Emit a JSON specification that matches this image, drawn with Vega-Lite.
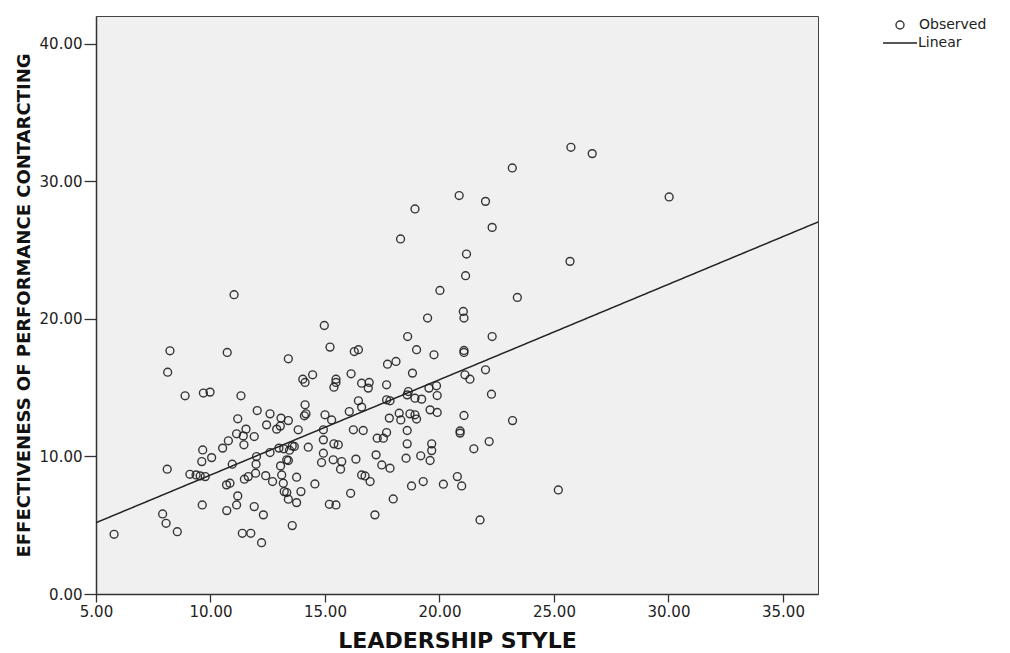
{
  "$schema": "https://vega.github.io/schema/vega-lite/v6.json",
  "width": 722,
  "height": 578,
  "autosize": {"type": "none"},
  "padding": {"left": 96, "top": 16, "right": 192, "bottom": 59},
  "background": "white",
  "config": {
    "view": {"fill": "#f0f0f0", "stroke": "#444444", "strokeWidth": 1},
    "axis": {
      "grid": false,
      "domainColor": "#333333",
      "domainWidth": 1.5,
      "tickColor": "#333333",
      "tickWidth": 1.3,
      "labelFont": "DejaVu Sans",
      "labelFontSize": 15,
      "labelColor": "#222222",
      "labelFlush": false,
      "labelOverlap": false,
      "titleFont": "DejaVu Sans",
      "titleFontWeight": "bold",
      "titleColor": "#111111"
    },
    "legend": {
      "labelFont": "DejaVu Sans",
      "labelFontSize": 14,
      "labelColor": "#222222",
      "padding": 0
    }
  },
  "layer": [
    {
      "data": {
        "values": [
          {"leadership": 8.23, "effectiveness": 17.67},
          {"leadership": 10.73, "effectiveness": 17.55},
          {"leadership": 13.40, "effectiveness": 17.09},
          {"leadership": 15.22, "effectiveness": 17.94},
          {"leadership": 8.13, "effectiveness": 16.12},
          {"leadership": 14.46, "effectiveness": 15.93},
          {"leadership": 14.03, "effectiveness": 15.61},
          {"leadership": 14.13, "effectiveness": 15.37},
          {"leadership": 8.89, "effectiveness": 14.40},
          {"leadership": 9.69, "effectiveness": 14.60},
          {"leadership": 9.98, "effectiveness": 14.67},
          {"leadership": 11.33, "effectiveness": 14.40},
          {"leadership": 14.13, "effectiveness": 13.75},
          {"leadership": 14.17, "effectiveness": 13.09},
          {"leadership": 14.10, "effectiveness": 12.95},
          {"leadership": 12.04, "effectiveness": 13.33},
          {"leadership": 12.60, "effectiveness": 13.09},
          {"leadership": 11.19, "effectiveness": 12.73},
          {"leadership": 13.08, "effectiveness": 12.78},
          {"leadership": 13.40, "effectiveness": 12.60},
          {"leadership": 12.45, "effectiveness": 12.29},
          {"leadership": 12.89, "effectiveness": 11.98},
          {"leadership": 13.05, "effectiveness": 12.20},
          {"leadership": 13.83, "effectiveness": 11.93},
          {"leadership": 11.55, "effectiveness": 11.98},
          {"leadership": 11.14, "effectiveness": 11.64},
          {"leadership": 11.43, "effectiveness": 11.49},
          {"leadership": 11.91, "effectiveness": 11.44},
          {"leadership": 10.78, "effectiveness": 11.13},
          {"leadership": 10.53, "effectiveness": 10.60},
          {"leadership": 11.46, "effectiveness": 10.84},
          {"leadership": 9.66, "effectiveness": 10.47},
          {"leadership": 10.05, "effectiveness": 9.91},
          {"leadership": 9.62, "effectiveness": 9.62},
          {"leadership": 10.95, "effectiveness": 9.43},
          {"leadership": 12.99, "effectiveness": 10.60},
          {"leadership": 13.57, "effectiveness": 10.76},
          {"leadership": 13.66, "effectiveness": 10.72},
          {"leadership": 13.20, "effectiveness": 10.55},
          {"leadership": 13.45, "effectiveness": 10.45},
          {"leadership": 12.01, "effectiveness": 9.99},
          {"leadership": 12.60, "effectiveness": 10.28},
          {"leadership": 14.27, "effectiveness": 10.67},
          {"leadership": 13.33, "effectiveness": 9.75},
          {"leadership": 13.40, "effectiveness": 9.70},
          {"leadership": 13.06, "effectiveness": 9.31},
          {"leadership": 11.99, "effectiveness": 9.43},
          {"leadership": 8.11, "effectiveness": 9.07},
          {"leadership": 9.10, "effectiveness": 8.70},
          {"leadership": 9.37, "effectiveness": 8.65},
          {"leadership": 9.55, "effectiveness": 8.58},
          {"leadership": 9.77, "effectiveness": 8.53},
          {"leadership": 10.70, "effectiveness": 7.93},
          {"leadership": 10.85, "effectiveness": 8.05},
          {"leadership": 11.48, "effectiveness": 8.34},
          {"leadership": 11.65, "effectiveness": 8.53},
          {"leadership": 11.97, "effectiveness": 8.78},
          {"leadership": 12.41, "effectiveness": 8.60},
          {"leadership": 12.71, "effectiveness": 8.17},
          {"leadership": 13.11, "effectiveness": 8.65},
          {"leadership": 13.18, "effectiveness": 8.05},
          {"leadership": 13.22, "effectiveness": 7.44},
          {"leadership": 13.33, "effectiveness": 7.37},
          {"leadership": 13.76, "effectiveness": 8.49},
          {"leadership": 13.95, "effectiveness": 7.44},
          {"leadership": 13.40, "effectiveness": 6.89},
          {"leadership": 13.76, "effectiveness": 6.64},
          {"leadership": 14.56, "effectiveness": 8.00},
          {"leadership": 11.19, "effectiveness": 7.13},
          {"leadership": 11.14, "effectiveness": 6.47},
          {"leadership": 10.71, "effectiveness": 6.06},
          {"leadership": 11.91, "effectiveness": 6.35},
          {"leadership": 12.31, "effectiveness": 5.75},
          {"leadership": 9.64, "effectiveness": 6.47},
          {"leadership": 7.91, "effectiveness": 5.82},
          {"leadership": 8.06, "effectiveness": 5.14},
          {"leadership": 8.55, "effectiveness": 4.53},
          {"leadership": 5.79, "effectiveness": 4.34},
          {"leadership": 11.39, "effectiveness": 4.41},
          {"leadership": 11.76, "effectiveness": 4.41},
          {"leadership": 12.23, "effectiveness": 3.73},
          {"leadership": 13.57, "effectiveness": 4.97},
          {"leadership": 15.19, "effectiveness": 6.52},
          {"leadership": 15.48, "effectiveness": 6.47},
          {"leadership": 14.85, "effectiveness": 9.55},
          {"leadership": 14.93, "effectiveness": 10.23},
          {"leadership": 14.93, "effectiveness": 11.20},
          {"leadership": 14.93, "effectiveness": 11.93},
          {"leadership": 15.00, "effectiveness": 13.02},
          {"leadership": 18.61, "effectiveness": 18.71},
          {"leadership": 22.30, "effectiveness": 18.71},
          {"leadership": 16.28, "effectiveness": 17.62},
          {"leadership": 16.46, "effectiveness": 17.75},
          {"leadership": 19.00, "effectiveness": 17.75},
          {"leadership": 19.76, "effectiveness": 17.38},
          {"leadership": 21.07, "effectiveness": 17.70},
          {"leadership": 21.07, "effectiveness": 17.55},
          {"leadership": 17.73, "effectiveness": 16.70},
          {"leadership": 18.10, "effectiveness": 16.90},
          {"leadership": 18.82, "effectiveness": 16.05},
          {"leadership": 16.14, "effectiveness": 16.00},
          {"leadership": 15.48, "effectiveness": 15.61},
          {"leadership": 15.48, "effectiveness": 15.37},
          {"leadership": 15.39, "effectiveness": 15.03},
          {"leadership": 16.60, "effectiveness": 15.32},
          {"leadership": 16.93, "effectiveness": 15.37},
          {"leadership": 16.89, "effectiveness": 14.96},
          {"leadership": 17.69, "effectiveness": 15.20},
          {"leadership": 21.11, "effectiveness": 15.93},
          {"leadership": 21.33, "effectiveness": 15.61},
          {"leadership": 22.01, "effectiveness": 16.29},
          {"leadership": 22.27, "effectiveness": 14.52},
          {"leadership": 19.54, "effectiveness": 14.96},
          {"leadership": 19.87, "effectiveness": 15.13},
          {"leadership": 19.90, "effectiveness": 14.42},
          {"leadership": 18.64, "effectiveness": 14.71},
          {"leadership": 18.59, "effectiveness": 14.47},
          {"leadership": 18.93, "effectiveness": 14.23},
          {"leadership": 19.22, "effectiveness": 14.16},
          {"leadership": 16.46, "effectiveness": 14.04},
          {"leadership": 16.60, "effectiveness": 13.58},
          {"leadership": 16.06, "effectiveness": 13.26},
          {"leadership": 17.69, "effectiveness": 14.11},
          {"leadership": 17.84, "effectiveness": 14.04},
          {"leadership": 19.59, "effectiveness": 13.38},
          {"leadership": 19.90, "effectiveness": 13.19},
          {"leadership": 18.24, "effectiveness": 13.14},
          {"leadership": 18.71, "effectiveness": 13.09},
          {"leadership": 18.93, "effectiveness": 13.02},
          {"leadership": 17.81, "effectiveness": 12.78},
          {"leadership": 18.31, "effectiveness": 12.65},
          {"leadership": 19.00, "effectiveness": 12.71},
          {"leadership": 21.07, "effectiveness": 12.97},
          {"leadership": 15.29, "effectiveness": 12.65},
          {"leadership": 16.24, "effectiveness": 11.93},
          {"leadership": 16.67, "effectiveness": 11.88},
          {"leadership": 17.69, "effectiveness": 11.73},
          {"leadership": 17.28, "effectiveness": 11.32},
          {"leadership": 17.55, "effectiveness": 11.32},
          {"leadership": 18.59, "effectiveness": 11.88},
          {"leadership": 20.90, "effectiveness": 11.85},
          {"leadership": 20.90, "effectiveness": 11.69},
          {"leadership": 22.17, "effectiveness": 11.08},
          {"leadership": 21.50, "effectiveness": 10.55},
          {"leadership": 18.59, "effectiveness": 10.91},
          {"leadership": 19.66, "effectiveness": 10.91},
          {"leadership": 19.66, "effectiveness": 10.42},
          {"leadership": 15.39, "effectiveness": 10.91},
          {"leadership": 15.58, "effectiveness": 10.84},
          {"leadership": 17.23, "effectiveness": 10.11},
          {"leadership": 18.54, "effectiveness": 9.87},
          {"leadership": 19.18, "effectiveness": 10.04},
          {"leadership": 19.59, "effectiveness": 9.70},
          {"leadership": 15.36, "effectiveness": 9.75},
          {"leadership": 15.73, "effectiveness": 9.62},
          {"leadership": 15.68, "effectiveness": 9.07},
          {"leadership": 16.35, "effectiveness": 9.80},
          {"leadership": 17.48, "effectiveness": 9.38},
          {"leadership": 17.84, "effectiveness": 9.14},
          {"leadership": 16.60, "effectiveness": 8.65},
          {"leadership": 16.75, "effectiveness": 8.58},
          {"leadership": 16.97, "effectiveness": 8.17},
          {"leadership": 16.12, "effectiveness": 7.32},
          {"leadership": 18.78, "effectiveness": 7.85},
          {"leadership": 19.29, "effectiveness": 8.17},
          {"leadership": 20.17, "effectiveness": 7.98},
          {"leadership": 20.78, "effectiveness": 8.53},
          {"leadership": 20.97, "effectiveness": 7.85},
          {"leadership": 17.98, "effectiveness": 6.91},
          {"leadership": 17.18, "effectiveness": 5.75},
          {"leadership": 21.77, "effectiveness": 5.38},
          {"leadership": 23.19, "effectiveness": 12.60},
          {"leadership": 25.19, "effectiveness": 7.56},
          {"leadership": 25.74, "effectiveness": 32.46},
          {"leadership": 26.67, "effectiveness": 32.00},
          {"leadership": 23.18, "effectiveness": 30.96},
          {"leadership": 20.86, "effectiveness": 28.95},
          {"leadership": 22.01, "effectiveness": 28.53},
          {"leadership": 18.93, "effectiveness": 27.98},
          {"leadership": 30.03, "effectiveness": 28.85},
          {"leadership": 22.30, "effectiveness": 26.64},
          {"leadership": 18.30, "effectiveness": 25.80},
          {"leadership": 21.18, "effectiveness": 24.70},
          {"leadership": 25.70, "effectiveness": 24.17},
          {"leadership": 21.14, "effectiveness": 23.13},
          {"leadership": 20.02, "effectiveness": 22.06},
          {"leadership": 23.40, "effectiveness": 21.55},
          {"leadership": 21.04, "effectiveness": 20.53},
          {"leadership": 21.07, "effectiveness": 20.05},
          {"leadership": 19.48, "effectiveness": 20.05},
          {"leadership": 14.97, "effectiveness": 19.51},
          {"leadership": 11.03, "effectiveness": 21.75}
        ]
      },
      "mark": {"type": "point", "filled": false, "size": 62, "strokeWidth": 1.4, "opacity": 0.9},
      "encoding": {
        "x": {
          "field": "leadership",
          "type": "quantitative",
          "scale": {"domain": [5, 36.53], "nice": false, "zero": false},
          "axis": {
            "values": [5, 10, 15, 20, 25, 30, 35],
            "format": ".2f",
            "title": "LEADERSHIP STYLE",
            "tickSize": 8,
            "labelPadding": 2,
            "titleFontSize": 22,
            "titlePadding": 11
          }
        },
        "y": {
          "field": "effectiveness",
          "type": "quantitative",
          "scale": {"domain": [0, 42], "nice": false},
          "axis": {
            "values": [0, 10, 20, 30, 40],
            "format": ".2f",
            "title": "EFFECTIVENESS OF PERFORMANCE CONTARCTING",
            "tickSize": 12,
            "labelPadding": 2,
            "titleFontSize": 18,
            "titlePadding": 6
          }
        },
        "color": {
          "datum": "Observed",
          "type": "nominal",
          "scale": {"domain": ["Observed"], "range": ["#222222"]},
          "legend": {
            "title": null,
            "orient": "none",
            "legendX": 797,
            "legendY": 2,
            "symbolType": "circle",
            "symbolSize": 64,
            "symbolStrokeWidth": 1.4,
            "labelOffset": 12
          }
        }
      }
    },
    {
      "data": {
        "values": [
          {"leadership": 5, "effectiveness": 5.18},
          {"leadership": 36.53, "effectiveness": 27.03}
        ]
      },
      "mark": {"type": "line", "color": "#222222", "strokeWidth": 1.5, "clip": true},
      "encoding": {
        "x": {"field": "leadership", "type": "quantitative"},
        "y": {"field": "effectiveness", "type": "quantitative"},
        "strokeDash": {
          "datum": "Linear",
          "type": "nominal",
          "scale": {"domain": ["Linear"], "range": [[1, 0]]},
          "legend": {
            "title": null,
            "orient": "none",
            "legendX": 786,
            "legendY": 9,
            "symbolType": "stroke",
            "symbolSize": 1156,
            "symbolStrokeWidth": 1.5,
            "symbolStrokeColor": "#222222",
            "labelOffset": 0
          }
        }
      }
    }
  ]
}
